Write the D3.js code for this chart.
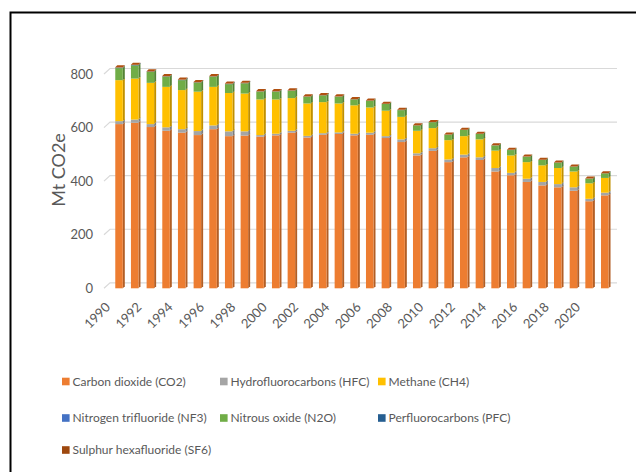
<!DOCTYPE html>
<html>
<head>
<meta charset="utf-8">
<script src="https://cdn.jsdelivr.net/npm/d3@7"></script>
<style>
  body { margin: 0; background: #fff; }
  svg { display: block; font-family: Lato, 'Open Sans', sans-serif; }
</style>
</head>
<body>
<div class="container"></div>
<script>
// values (Mt CO2e)
const years = [1990, 1991, 1992, 1993, 1994, 1995, 1996, 1997, 1998, 1999, 2000,
  2001, 2002, 2003, 2004, 2005, 2006, 2007, 2008, 2009, 2010, 2011, 2012, 2013,
  2014, 2015, 2016, 2017, 2018, 2019, 2020, 2021];
const co2 = [613, 618, 602, 588, 581, 572, 594, 568, 570, 566, 571, 581, 563, 573,
  576, 571, 573, 561, 546, 496, 513, 471, 489, 479, 436, 422, 397, 384, 377, 364, 325, 347];
const hfc = [11, 12, 11, 13, 13, 15, 14, 18, 16, 6, 6, 7, 6, 6, 6, 6, 8, 7, 10, 8,
  10, 10, 10, 10, 13, 9, 12, 13, 12, 13, 9, 10];
const ch4 = [153, 153, 154, 151, 146, 147, 144, 143, 141, 133, 128, 122, 121, 116,
  108, 106, 94, 95, 84, 84, 75, 72, 69, 67, 65, 65, 62, 62, 60, 59, 58, 55];
const nf3 = [0, 0, 0, 0, 0, 0, 0, 0, 0, 0, 0, 0, 0, 0, 0, 0, 0, 0, 0, 0, 0, 0, 0,
  0, 0, 0, 0, 0, 0, 0, 0, 0];
const n2o = [45, 49, 41, 38, 37, 34, 38, 33, 38, 29, 29, 27, 25, 25, 25, 22, 25,
  25, 25, 20, 22, 20, 23, 20, 19, 20, 20, 20, 20, 18, 17, 17];
const pfc = [1.6, 1.5, 1.2, 1.0, 0.9, 0.8, 0.7, 0.6, 0.6, 0.5, 0.6, 0.5, 0.4, 0.4,
  0.4, 0.4, 0.3, 0.3, 0.3, 0.2, 0.3, 0.4, 0.3, 0.3, 0.3, 0.3, 0.3, 0.3, 0.3, 0.3, 0.2, 0.2];
const sf6 = [1.3, 1.3, 1.3, 1.4, 1.5, 1.6, 1.6, 1.6, 1.5, 1.6, 1.6, 1.5, 1.5, 1.4,
  1.3, 1.2, 1.1, 1.0, 0.9, 0.8, 0.8, 0.7, 0.7, 0.6, 0.6, 0.6, 0.6, 0.5, 0.5, 0.5, 0.5, 0.5];

const keys = ['co2', 'hfc', 'ch4', 'nf3', 'n2o', 'pfc', 'sf6'];
const names = ['Carbon dioxide (CO2)', 'Hydrofluorocarbons (HFC)', 'Methane (CH4)',
  'Nitrogen trifluoride (NF3)', 'Nitrous oxide (N2O)', 'Perfluorocarbons (PFC)',
  'Sulphur hexafluoride (SF6)'];
const colors = ['#ED7D31', '#A5A5A5', '#FFC000', '#4472C4', '#70AD47', '#255E91', '#9E480E'];
const yTicks = [0, 200, 400, 600, 800];
const xLabels = years.filter((d) => d % 2 === 0);

const width = 636;
const height = 472;
const textColor = '#595959';

const table = years.map((year, i) => ({
  year, co2: co2[i], hfc: hfc[i], ch4: ch4[i], nf3: nf3[i], n2o: n2o[i], pfc: pfc[i], sf6: sf6[i]
}));
const series = d3.stack().keys(keys)(table);

const svg = d3
  .select('.container')
  .append('svg')
  .attr('width', width)
  .attr('height', height);

// frame (runs off the right and bottom edge like the screenshot)
svg
  .append('rect')
  .attr('x', 10.5)
  .attr('y', 12.5)
  .attr('width', 700)
  .attr('height', 600)
  .attr('fill', 'none')
  .attr('stroke', '#000')
  .attr('stroke-width', 2);

const xScale = d3
  .scaleBand()
  .domain(years)
  .range([111.2, 612.6])
  .paddingInner(0.52)
  .paddingOuter(0.26);

const yScale = d3.scaleLinear().domain([0, 800]).range([288.3, 74]);

// 3d depth of the back wall and of the bars
const wallDx = 6;
const wallDy = -5.5;
const barDx = 2;
const barDy = -2;

svg
  .append('g')
  .attr('id', 'grid')
  .selectAll('path')
  .data(yTicks)
  .join('path')
  .attr('d', (d) => `M104,${yScale(d)} L${104 + wallDx},${yScale(d) + wallDy} H617`)
  .attr('fill', 'none')
  .attr('stroke', '#D9D9D9')
  .attr('stroke-width', 1.2);

svg
  .append('g')
  .attr('id', 'y-axis')
  .selectAll('text')
  .data(yTicks)
  .join('text')
  .attr('x', 93)
  .attr('y', (d) => yScale(d))
  .attr('dy', '0.36em')
  .attr('text-anchor', 'end')
  .attr('fill', textColor)
  .style('font-size', '13px')
  .text((d) => d);

svg
  .append('text')
  .attr('transform', 'translate(65,170) rotate(-90)')
  .attr('text-anchor', 'middle')
  .attr('fill', textColor)
  .style('font-size', '18px')
  .text('Mt CO2e');

const bw = xScale.bandwidth();
const shade = (c) => d3.color(c).darker(0.8).formatHex();

const layers = svg
  .append('g')
  .attr('id', 'bars')
  .selectAll('g')
  .data(series)
  .join('g');

layers
  .selectAll('path.side')
  .data((s) => s.map((d) => ({ d, key: s.key, i: s.index })))
  .join('path')
  .attr('class', 'side')
  .attr('d', ({ d }) => {
    const x = xScale(d.data.year) + bw;
    const y0 = yScale(d[0]);
    const y1 = yScale(d[1]);
    return `M${x},${y1} L${x + barDx},${y1 + barDy} L${x + barDx},${y0 + barDy} L${x},${y0}Z`;
  })
  .attr('fill', ({ i }) => shade(colors[i]));

layers
  .selectAll('rect')
  .data((s) => s.map((d) => ({ d, i: s.index })))
  .join('rect')
  .attr('x', ({ d }) => xScale(d.data.year))
  .attr('y', ({ d }) => yScale(d[1]))
  .attr('width', bw)
  .attr('height', ({ d }) => yScale(d[0]) - yScale(d[1]))
  .attr('fill', ({ i }) => colors[i]);

// top face of each column, coloured by the top series
const topSeries = series[series.length - 1];
svg
  .append('g')
  .attr('id', 'tops')
  .selectAll('path')
  .data(topSeries)
  .join('path')
  .attr('d', (d) => {
    const x = xScale(d.data.year);
    const y = yScale(d[1]);
    return `M${x},${y} L${x + barDx},${y + barDy} L${x + bw + barDx},${y + barDy} L${x + bw},${y}Z`;
  })
  .attr('fill', d3.color(colors[6]).brighter(0.3).formatHex());

svg
  .append('g')
  .attr('id', 'x-axis')
  .selectAll('text')
  .data(xLabels)
  .join('text')
  .attr('transform', (d) => `translate(${xScale(d) + bw / 2 - 8},${308}) rotate(-45)`)
  .attr('text-anchor', 'end')
  .attr('fill', textColor)
  .style('font-size', '13px')
  .text((d) => d);

// legend
const legendPos = [
  [62, 381.5], [220, 381.5], [378, 381.5],
  [62, 418], [220, 418], [378, 418],
  [62, 450]
];
const legend = svg
  .append('g')
  .attr('id', 'legend')
  .selectAll('g')
  .data(names)
  .join('g')
  .attr('transform', (d, i) => `translate(${legendPos[i][0]},${legendPos[i][1]})`);

legend
  .append('rect')
  .attr('x', 0)
  .attr('y', -3.8)
  .attr('width', 7.6)
  .attr('height', 7.6)
  .attr('fill', (d, i) => colors[i]);

legend
  .append('text')
  .attr('x', 10.5)
  .attr('dy', '0.36em')
  .attr('fill', textColor)
  .style('font-size', '12px')
  .text((d) => d);
</script>
</body>
</html>
